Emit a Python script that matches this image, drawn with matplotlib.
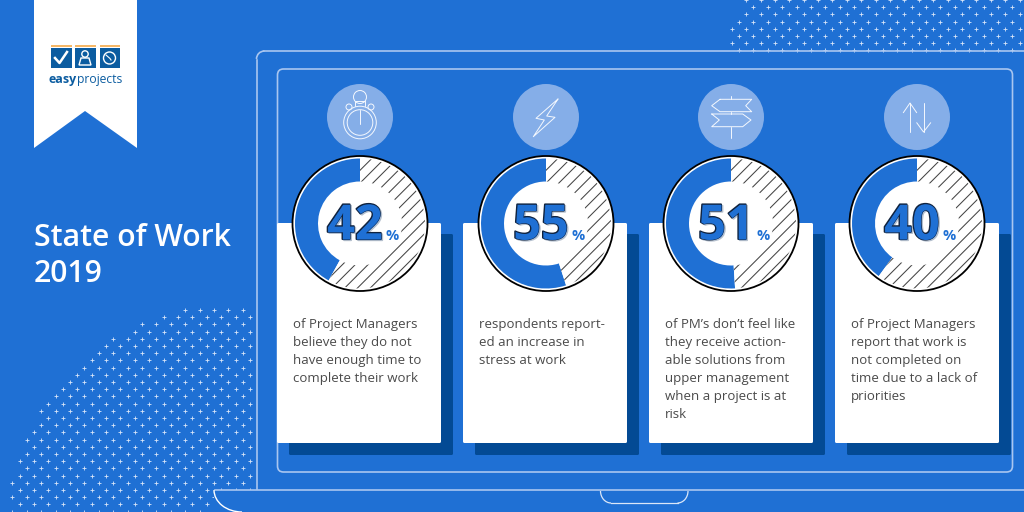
import numpy as np
import matplotlib
matplotlib.use('Agg')
import matplotlib.pyplot as plt
from matplotlib.patches import Wedge, Circle, Rectangle, Polygon, FancyBboxPatch, Arc
from matplotlib.collections import LineCollection
import matplotlib.patheffects as pe

# chart data
percents = [42, 55, 51, 40]
captions = [
    "of Project Managers\nbelieve they do not\nhave enough time to\ncomplete their work",
    "respondents report-\ned an increase in\nstress at work",
    "of PM\u2019s don\u2019t feel like\nthey receive action-\nable solutions from\nupper management\nwhen a project is at\nrisk",
    "of Project Managers\nreport that work is\nnot completed on\ntime due to a lack of\npriorities",
]
title_lines = ["State of Work", "2019"]
card_lefts = [277, 463, 649, 835]
donut_xs = [360, 546, 731, 917]

BG = '#1f70d4'
SHADOW = '#034a94'
PALE = '#85aee8'
LINE = '#a9c6f0'
TEXT = '#4a4a4a'
LOGO = '#0b5ca0'

plt.rcParams['font.family'] = ['Open Sans', 'DejaVu Sans']

fig = plt.figure(figsize=(10.24, 5.12), dpi=100, facecolor=BG)
ax = fig.add_axes([0, 0, 1, 1])
ax.set_xlim(0, 1024)
ax.set_ylim(512, 0)
ax.axis('off')


def dots(x0, y0, x_end, y_end, keep):
    xs, ys = [], []
    row = 0
    y = y0
    while y < y_end:
        x = x0 + (7.2 if row % 2 else 0)
        while x < x_end:
            if keep(x, y):
                xs.append(x)
                ys.append(y)
            x += 14.4
        y += 7.2
        row += 1
    ax.scatter(xs, ys, marker='+', s=5, linewidths=0.6, color='#d8e5f8', zorder=1)


# dotted backgrounds
dots(-2.1, 310, 253, 512, lambda x, y: np.hypot(x - 235, y - 535) < 231)
dots(731.7, 0.0, 1024, 51, lambda x, y: x > 745 - y * 0.52)

# laptop outline
ax.plot([256.5, 256.5], [490, 60], color=LINE, lw=1.2, zorder=2)
ax.add_patch(Arc((264.5, 59), 16, 16, theta1=180, theta2=270, color=LINE, lw=1.2, zorder=2))
ax.plot([264, 1024], [51, 51], color=LINE, lw=1.2, zorder=2)
ax.add_patch(FancyBboxPatch((277.5, 69), 735, 403, boxstyle='round,pad=0,rounding_size=6',
                            fc='none', ec=LINE, lw=1.2, zorder=2))

# base
ax.add_patch(Rectangle((214, 490), 810, 22, fc=BG, ec='none', zorder=3))
ax.plot([214.5, 1024], [490, 490], color=LINE, lw=1.2, zorder=4)
ax.add_patch(Arc((242, 490), 56, 44, theta1=90, theta2=180, color='white', lw=1, zorder=4))
ax.add_patch(Arc((611, 491), 21, 24, theta1=90, theta2=180, color='#dbe7f8', lw=0.9, zorder=4))
ax.add_patch(Arc((677.5, 491), 21, 24, theta1=0, theta2=90, color='#dbe7f8', lw=0.9, zorder=4))
ax.plot([611, 677.5], [503, 503], color='#dbe7f8', lw=0.9, zorder=4)

# ribbon and logo
ax.add_patch(Polygon([(34, 0), (137, 0), (137, 148), (85, 111), (34, 148)], fc='white', ec='none', zorder=5))
for lx in [51, 75, 99.5]:
    ax.add_patch(Rectangle((lx, 47.5), 20.5, 20.5, fc=LOGO, ec='none', zorder=6))
    ax.add_patch(Rectangle((lx, 45), 20.5, 2, fc='#f6b766', ec='none', zorder=6))
ax.plot([55, 59.5, 67], [58, 63, 52], color='white', lw=1.8, zorder=7)
ax.add_patch(Circle((85, 54), 3.2, fc='none', ec='white', lw=1, zorder=7))
ax.add_patch(Polygon([(81, 58), (89, 58), (91, 65), (79, 65)], fc='none', ec='white', lw=1, zorder=7))
ax.add_patch(Circle((109.5, 58), 6, fc='none', ec='white', lw=1, zorder=7))
ax.plot([106, 110, 111], [55, 58.5, 60], color='white', lw=0.8, zorder=7)
ax.text(48.5, 79.5, 'easy', fontsize=9, fontweight='bold', color=LOGO, va='center', ha='left', zorder=7)
ax.text(76.5, 79.5, 'projects', fontsize=8.7, color=LOGO, va='center', ha='left', zorder=7)

# title
for text, ty in zip(title_lines, [238, 274]):
    ax.text(34, ty, text, fontsize=21.7, color='white', fontweight='semibold', va='center', ha='left', zorder=5)


# cards
for left, caption in zip(card_lefts, captions):
    ax.add_patch(FancyBboxPatch((left + 12, 234), 164, 221, boxstyle='round,pad=0,rounding_size=1.5',
                                fc=SHADOW, ec='none', zorder=5))
    ax.add_patch(FancyBboxPatch((left, 223), 164, 220, boxstyle='round,pad=0,rounding_size=1.5',
                                fc='white', ec='none', zorder=6))
    for i, line in enumerate(caption.split('\n')):
        ax.text(left + 16, 328 + 18 * i, line, fontsize=9.5, color=TEXT, va='baseline', ha='left', zorder=7)


def hatch(cx, cy, start, end):
    clip = Wedge((cx, cy), 65, start, end, width=23, fc='white', ec='none', zorder=8)
    ax.add_patch(clip)
    segs = [[(cx + o - 70, cy + 70), (cx + o + 70, cy - 70)] for o in np.arange(-130, 130, 12.8)]
    lc = LineCollection(segs, colors='#444444', linewidths=0.75, zorder=9)
    ax.add_collection(lc)
    lc.set_clip_path(clip)


# donuts
cy = 223.5
for cx, pct in zip(donut_xs, percents):
    angle = 360 * pct / 100
    ax.add_patch(Circle((cx, cy), 67.5, fc='white', ec='black', lw=1.3, zorder=7))
    ax.add_patch(Wedge((cx, cy), 65, -90 - angle, -90, width=23, fc=BG, ec='none', zorder=8))
    hatch(cx, cy, -90, 270 - angle)
    ax.text(cx - 5, 227, str(pct), fontsize=35, fontweight='bold', color=BG, ha='center', va='center', zorder=10,
            path_effects=[pe.Stroke(linewidth=1.2, foreground='#b4bfcd', offset=(0.8, -0.6)),
                          pe.Stroke(linewidth=1.4, foreground='#10233f', offset=(-0.3, 0.3)),
                          pe.Normal()])
    ax.text(cx + 32, 235.5, '%', fontsize=10.5, fontweight='bold', color=BG, ha='center', va='center', zorder=10)
    ax.add_patch(Circle((cx, 117), 33, fc=PALE, ec='none', zorder=7))

# icons
ic = {'color': '#f4f8fe', 'lw': 0.7, 'zorder': 9, 'solid_capstyle': 'round'}
circ = {'fc': 'none', 'ec': '#f4f8fe', 'lw': 0.7, 'zorder': 9}
ax.add_patch(Circle((360, 122.5), 16.3, **circ))
ax.add_patch(Circle((360, 122.5), 12.8, **circ))
ax.add_patch(Circle((360, 97), 6.5, **circ))
ax.plot([355, 355, 365, 365], [106, 101, 101, 106], **ic)
ax.plot([360, 360], [110, 124], **ic)
ax.add_patch(Circle((349, 107), 3, **circ))
ax.add_patch(Circle((371, 107), 3, **circ))
ax.plot([558, 536, 544.3, 533.3, 555, 546.7, 558], [99, 118.3, 120, 136.7, 117.3, 116, 99], **ic)
ax.plot([731.3, 731.3], [96, 99.3], **ic)
ax.plot([731.3, 731.3], [111.7, 114], **ic)
ax.plot([731.3, 731.3], [126.7, 138.3], **ic)
ax.plot([720, 751.7, 745.7, 751.7, 720, 711.7, 720], [99.3, 99.3, 105.7, 111.7, 111.7, 105.7, 99.3], **ic)
ax.plot([711.7, 742.7, 751, 742.7, 711.7, 719.3, 711.7], [114, 114, 120, 126.7, 126.7, 120, 114], **ic)
ax.plot([910, 910], [103, 132], **ic)
ax.plot([903.3, 910, 916.7], [112.7, 103, 112.7], **ic)
ax.plot([923.5, 923.5], [103, 132], **ic)
ax.plot([916.7, 923.5, 930.7], [122.7, 132, 122.7], **ic)

fig.savefig('out.png', dpi=100, facecolor=BG)
